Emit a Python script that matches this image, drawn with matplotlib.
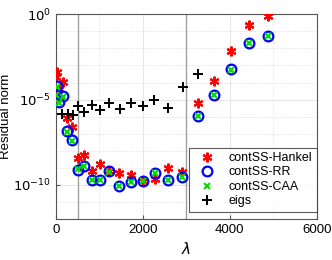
import matplotlib
matplotlib.use("Agg")
import matplotlib.pyplot as plt
from matplotlib.ticker import NullFormatter
import numpy as np

plt.rcParams['font.family'] = ['Liberation Sans', 'DejaVu Sans']
plt.rcParams['mathtext.fontset'] = 'dejavusans'

# shift points (lambda) used by the contour solvers
lam_ss = [30, 10, 175, 76, 253, 375, 501, 656, 835, 1019, 1230, 1456, 1725,
          1996, 2277, 2590, 2900, 3273, 3646, 4027, 4439, 4871]
# log10 of residual norm
hankel_log = [-3.36, -3.66, -3.98, -4.40, -6.07, -6.63, -8.45, -8.28, -9.20, -8.76,
              -9.19, -9.28, -9.41, -9.75, -9.65, -9.04, -9.26, -5.19, -3.90, -2.14,
              -0.63, -0.10]
rr_log = [-4.22, -4.69, -4.81, -5.16, -6.87, -7.39, -9.12, -8.91, -9.69, -9.69,
          -9.20, -10.06, -9.85, -9.75, -9.29, -9.72, -9.55, -5.96, -4.75, -3.23,
          -1.67, -1.26]
caa_log = [-4.25, -4.72, -4.84, -5.18, -6.90, -7.41, -9.10, -8.90, -9.70, -9.70,
           -9.22, -10.05, -9.85, -9.76, -9.30, -9.72, -9.56, -5.97, -4.76, -3.24,
           -1.68, -1.27]

lam_eigs = [145, 270, 385, 510, 660, 830, 1010, 1220, 1470, 1730, 2000, 2265,
            2590, 2930, 3265]
eigs_log = [-5.87, -5.87, -5.89, -5.39, -5.72, -5.31, -5.61, -5.19, -5.54, -5.18,
            -5.39, -5.03, -5.47, -4.28, -3.51]

vlines = [500, 3000]

fig = plt.figure(figsize=(3.32, 2.6), dpi=100)
ax = fig.add_axes([0.168, 0.158, 0.786, 0.787])

for v in vlines:
    ax.axvline(v, color='#a0a0a0', lw=1.0, zorder=1)

ax.plot(lam_ss, 10.0 ** np.array(hankel_log), linestyle='none', marker=(6, 2, 0),
        color='#ff0000', ms=7, mew=1.5, label='contSS-Hankel', zorder=3)
ax.plot(lam_ss, 10.0 ** np.array(rr_log), linestyle='none', marker='o',
        mfc='none', mec='#0000ff', ms=7, mew=1.6, label='contSS-RR', zorder=4)
ax.plot(lam_ss, 10.0 ** np.array(caa_log), linestyle='none', marker='x',
        color='#00e000', ms=4.5, mew=1.5, label='contSS-CAA', zorder=5)
ax.plot(lam_eigs, 10.0 ** np.array(eigs_log), linestyle='none', marker='+',
        color='black', ms=7.5, mew=1.4, label='eigs', zorder=6)

ax.set_yscale('log')
ax.set_xlim(0, 6000)
ax.set_ylim(1e-12, 1)
ax.set_xticks([0, 2000, 4000, 6000])
ax.set_xticks([1000, 3000, 5000], minor=True)
ax.set_yticks([1e-10, 1e-5, 1])
ax.set_yticks([10.0 ** k for k in range(-12, 1) if k not in (-10, -5, 0)], minor=True)
ax.set_yticklabels([r'$10^{-10}$', r'$10^{-5}$', r'$10^{0}$'])
ax.yaxis.set_minor_formatter(NullFormatter())
ax.xaxis.set_minor_formatter(NullFormatter())
ax.grid(True, which='major', color='#e6e6e6', lw=0.8, zorder=0)
ax.grid(True, which='minor', color='#d8d8d8', lw=0.6, linestyle=':', zorder=0)
ax.set_axisbelow(True)
ax.tick_params(which='both', direction='in', length=3, color='#555555', labelsize=9.5)
ax.tick_params(which='minor', length=2, left=False, bottom=False)
for s in ax.spines.values():
    s.set_color('#555555')
    s.set_linewidth(0.8)

ax.set_xlabel(r'$\lambda$', fontsize=11)
ax.set_ylabel('Residual norm', fontsize=9.5)
ax.yaxis.set_label_coords(-0.168, 0.5)

leg = ax.legend(loc='lower right', bbox_to_anchor=(1.0, 0.035), fontsize=9,
                frameon=True, fancybox=False, edgecolor='#333333', borderpad=0.35,
                labelspacing=0.2, handletextpad=0.6, borderaxespad=0.0,
                handlelength=2.2)
leg.get_frame().set_linewidth(0.8)

fig.savefig('out.png', dpi=100)
